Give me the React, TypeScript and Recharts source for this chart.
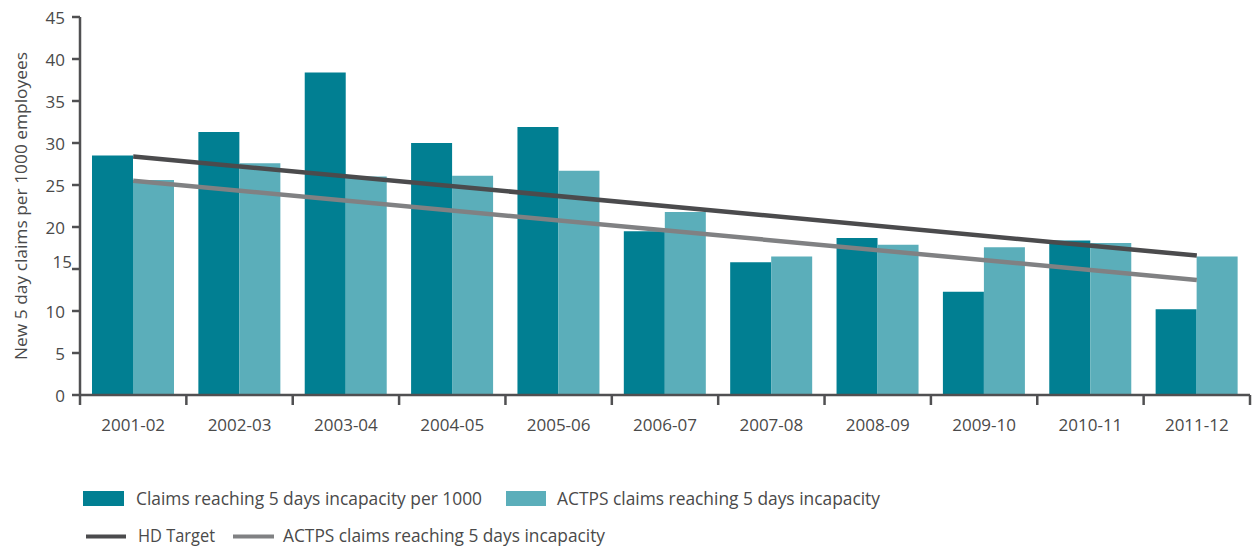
import React from 'react';
import { ComposedChart, Bar, Line, XAxis, YAxis, Legend } from 'recharts';

const categories = ['2001-02', '2002-03', '2003-04', '2004-05', '2005-06', '2006-07', '2007-08', '2008-09', '2009-10', '2010-11', '2011-12'];
const claimsPer1000 = [28.5, 31.3, 38.4, 30.0, 31.9, 19.5, 15.8, 18.7, 12.3, 18.4, 10.2];
const actpsClaims = [25.6, 27.6, 26.0, 26.1, 26.7, 21.8, 16.5, 17.9, 17.6, 18.1, 16.5];
const hdTarget = [28.4, null, null, null, null, null, null, null, null, null, 16.6];
const actpsTrend = [25.5, null, null, null, null, null, null, null, null, null, 13.7];
const yTicks = [0, 5, 10, 15, 20, 25, 30, 35, 40, 45];

const seriesNames = {
  claims: 'Claims reaching 5 days incapacity per 1000',
  actps: 'ACTPS claims reaching 5 days incapacity',
  hd: 'HD Target',
  actpsTrend: 'ACTPS claims reaching 5 days incapacity',
};

const data = categories.map((c, i) => ({
  cat: c,
  claims: claimsPer1000[i],
  actps: actpsClaims[i],
  hd: hdTarget[i],
  actpsTrend: actpsTrend[i],
}));

const DARK_TEAL = '#017F92';
const LIGHT_TEAL = '#5BAEBA';
const DARK_LINE = '#4B4B4D';
const GRAY_LINE = '#808183';
const AXIS = '#505052';
const TEXT = '#4A4A4A';
const FONT = '"Open Sans", "DejaVu Sans", sans-serif';

const W = 1255;
const H = 549;
const PLOT_W = 1170;

const XTick = (props: any) => {
  const { x, y, payload, index } = props;
  const half = payload && typeof payload.offset === 'number' && payload.offset > 0 ? payload.offset : PLOT_W / 22;
  return (
    <g>
      <line x1={x - half} x2={x - half} y1={y} y2={y + 10} stroke={AXIS} strokeWidth={2.5} />
      {index === categories.length - 1 ? (
        <line x1={x + half} x2={x + half} y1={y} y2={y + 10} stroke={AXIS} strokeWidth={2.5} />
      ) : null}
      <text x={x} y={y + 29} textAnchor="middle" dominantBaseline="central" fill={TEXT} fontSize={17} fontFamily={FONT}>
        {payload.value}
      </text>
    </g>
  );
};

const YTick = (props: any) => {
  const { x, y, payload } = props;
  const is15 = payload.value === 15;
  return (
    <text
      x={is15 ? x + 7 : x}
      y={is15 ? y - 8 : y}
      textAnchor="end"
      dominantBaseline="central"
      fill={TEXT}
      fontSize={17}
      fontFamily={FONT}
    >
      {payload.value}
    </text>
  );
};

const YTitle = () => (
  <text
    transform="translate(20,206) rotate(-90)"
    textAnchor="middle"
    dominantBaseline="central"
    fill={TEXT}
    fontSize={17}
    fontFamily={FONT}
    textLength={308}
    lengthAdjust="spacingAndGlyphs"
  >
    New 5 day claims per 1000 employees
  </text>
);

const LegendContent = () => (
  <svg width={W} height={74} style={{ display: 'block' }}>
    <rect x={83} y={16} width={41} height={15} fill={DARK_TEAL} />
    <text x={136} y={30} fill={TEXT} fontSize={18} fontFamily={FONT} textLength={346} lengthAdjust="spacingAndGlyphs">
      {seriesNames.claims}
    </text>
    <rect x={506} y={16} width={40} height={15} fill={LIGHT_TEAL} />
    <text x={557} y={30} fill={TEXT} fontSize={18} fontFamily={FONT} textLength={323} lengthAdjust="spacingAndGlyphs">
      {seriesNames.actps}
    </text>
    <line x1={86} x2={126} y1={61.5} y2={61.5} stroke={DARK_LINE} strokeWidth={4} />
    <text x={138} y={67} fill={TEXT} fontSize={18} fontFamily={FONT} textLength={77} lengthAdjust="spacingAndGlyphs">
      {seriesNames.hd}
    </text>
    <line x1={233} x2={274} y1={61.5} y2={61.5} stroke={GRAY_LINE} strokeWidth={4} />
    <text x={283} y={67} fill={TEXT} fontSize={18} fontFamily={FONT} textLength={322} lengthAdjust="spacingAndGlyphs">
      {seriesNames.actpsTrend}
    </text>
  </svg>
);

export default function App() {
  return (
    <div style={{ position: 'absolute', left: 0, top: 0, width: W, height: H, background: '#fff' }}>
      <ComposedChart
        width={W}
        height={H}
        data={data}
        margin={{ top: 17, right: 5, bottom: 114, left: 0 }}
        barGap={0}
        barSize={41}
      >
        <XAxis
          dataKey="cat"
          height={40}
          tickLine={false}
          tickSize={0}
          tickMargin={0}
          axisLine={{ stroke: AXIS, strokeWidth: 2.5 }}
          tick={<XTick />}
          interval={0}
        />
        <YAxis
          width={80}
          domain={[0, 45]}
          ticks={yTicks}
          interval={0}
          tickSize={8}
          tickMargin={7}
          tickLine={{ stroke: AXIS, strokeWidth: 2.5 }}
          axisLine={{ stroke: AXIS, strokeWidth: 2.5 }}
          tick={<YTick />}
          label={{ content: () => <YTitle /> }}
        />
        <Bar dataKey="claims" name={seriesNames.claims} fill={DARK_TEAL} isAnimationActive={false} />
        <Bar dataKey="actps" name={seriesNames.actps} fill={LIGHT_TEAL} isAnimationActive={false} />
        <Line
          dataKey="hd"
          name={seriesNames.hd}
          stroke={DARK_LINE}
          strokeWidth={4.5}
          dot={false}
          activeDot={false}
          connectNulls
          isAnimationActive={false}
        />
        <Line
          dataKey="actpsTrend"
          name={seriesNames.actpsTrend}
          stroke={GRAY_LINE}
          strokeWidth={4.5}
          dot={false}
          activeDot={false}
          connectNulls
          isAnimationActive={false}
        />
        <Legend
          layout="horizontal"
          verticalAlign="middle"
          align="center"
          content={() => <LegendContent />}
          wrapperStyle={{ position: 'absolute', left: 0, top: 475, width: W, height: 74 }}
        />
      </ComposedChart>
    </div>
  );
}
